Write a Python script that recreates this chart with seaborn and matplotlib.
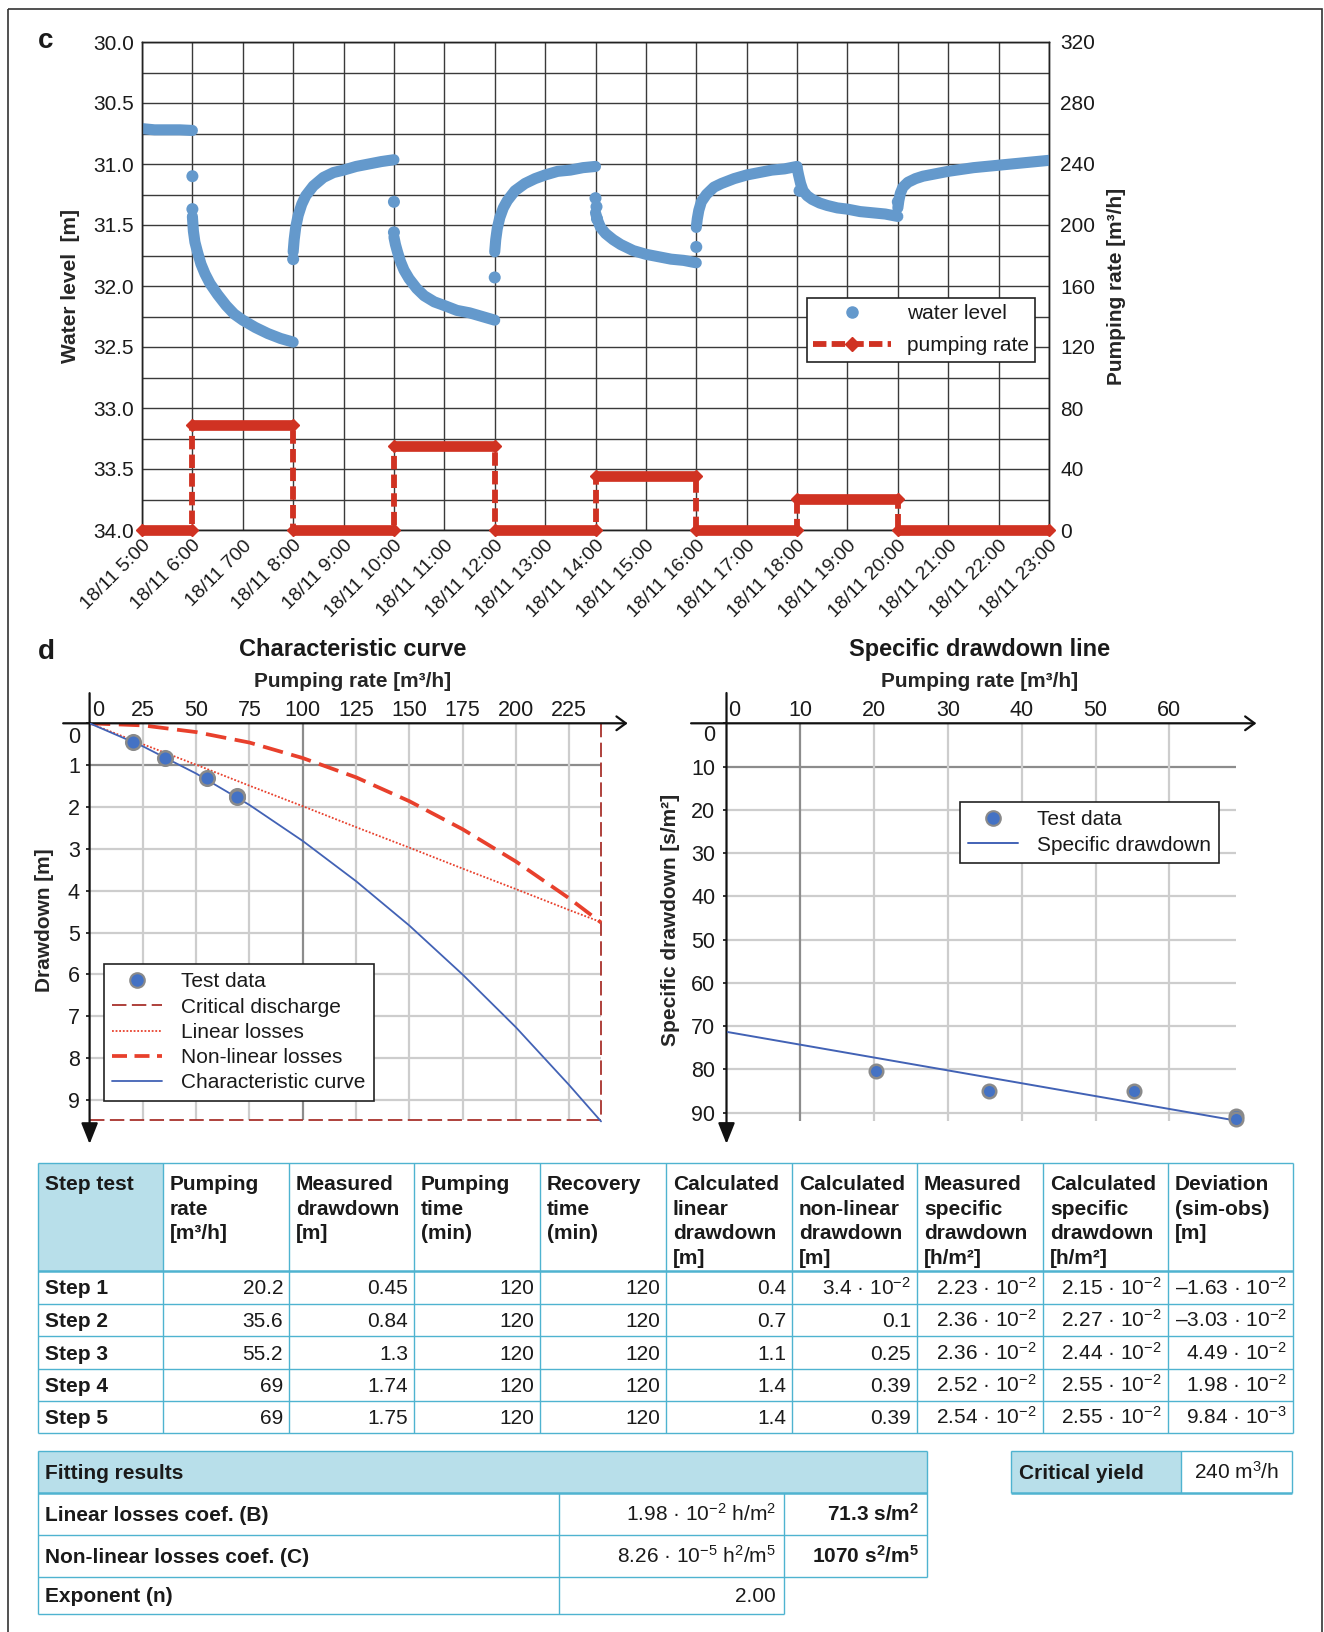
import numpy as np
import matplotlib
matplotlib.use("Agg")
import matplotlib.pyplot as plt
import seaborn as sns
from matplotlib.lines import Line2D
from matplotlib.patches import Rectangle
from matplotlib.transforms import ScaledTranslation

# ======================= DATA =======================
# --- panel c : time series (hours of 18/11) ---
hours = list(range(5, 24))
time_labels = ["18/11 5:00", "18/11 6:00", "18/11 700", "18/11 8:00", "18/11 9:00",
               "18/11 10:00", "18/11 11:00", "18/11 12:00", "18/11 13:00", "18/11 14:00",
               "18/11 15:00", "18/11 16:00", "18/11 17:00", "18/11 18:00", "18/11 19:00",
               "18/11 20:00", "18/11 21:00", "18/11 22:00", "18/11 23:00"]
wl_ticks = [30.0, 30.5, 31.0, 31.5, 32.0, 32.5, 33.0, 33.5, 34.0]
q_ticks = [0, 40, 80, 120, 160, 200, 240, 280, 320]

wl_times = [
    [5.0, 5.25, 5.5, 5.75, 6.0],
    [6.0, 6.02, 6.05, 6.10, 6.17, 6.25, 6.35, 6.5, 6.67, 6.83, 7.0, 7.25, 7.5, 7.75, 8.0],
    [8.0, 8.02, 8.05, 8.1, 8.17, 8.25, 8.4, 8.6, 8.8, 9.0, 9.25, 9.5, 9.75, 10.0],
    [10.0, 10.03, 10.07, 10.13, 10.2, 10.3, 10.45, 10.6, 10.8, 11.0, 11.25, 11.5, 11.75, 12.0],
    [12.0, 12.02, 12.05, 12.1, 12.17, 12.25, 12.4, 12.6, 12.8, 13.0, 13.25, 13.5, 13.75, 14.0],
    [14.0, 14.05, 14.1, 14.2, 14.35, 14.5, 14.75, 15.0, 15.25, 15.5, 15.75, 16.0],
    [16.0, 16.02, 16.05, 16.1, 16.2, 16.35, 16.5, 16.75, 17.0, 17.25, 17.5, 17.75, 18.0],
    [18.0, 18.03, 18.07, 18.12, 18.2, 18.3, 18.45, 18.6, 18.8, 19.0, 19.25, 19.5, 19.75, 20.0],
    [20.0, 20.02, 20.05, 20.1, 20.2, 20.35, 20.5, 20.75, 21.0, 21.5, 22.0, 22.5, 23.0],
]
wl_levels = [
    [30.71, 30.72, 30.72, 30.72, 30.725],
    [31.43, 31.55, 31.64, 31.72, 31.82, 31.90, 31.98, 32.07, 32.16, 32.23, 32.28, 32.34, 32.39, 32.43, 32.46],
    [31.72, 31.62, 31.52, 31.42, 31.33, 31.26, 31.18, 31.11, 31.07, 31.05, 31.02, 31.00, 30.98, 30.965],
    [31.60, 31.66, 31.72, 31.80, 31.87, 31.94, 32.02, 32.08, 32.13, 32.16, 32.20, 32.22, 32.25, 32.28],
    [31.72, 31.62, 31.53, 31.44, 31.36, 31.30, 31.22, 31.16, 31.12, 31.09, 31.06, 31.05, 31.03, 31.02],
    [31.40, 31.47, 31.52, 31.57, 31.62, 31.66, 31.71, 31.74, 31.76, 31.78, 31.79, 31.81],
    [31.52, 31.45, 31.38, 31.31, 31.25, 31.19, 31.16, 31.12, 31.09, 31.07, 31.05, 31.04, 31.02],
    [31.03, 31.09, 31.16, 31.22, 31.26, 31.29, 31.32, 31.34, 31.36, 31.37, 31.39, 31.40, 31.41, 31.43],
    [31.36, 31.30, 31.24, 31.19, 31.15, 31.12, 31.10, 31.08, 31.06, 31.03, 31.01, 30.99, 30.97],
]
wl_jump_t = [6.0, 6.0, 8.0, 10.0, 10.0, 12.0, 14.0, 14.02, 14.03, 16.0, 18.05, 20.0]
wl_jump_h = [31.10, 31.37, 31.78, 31.31, 31.56, 31.93, 31.28, 31.35, 31.45, 31.68, 31.22, 31.31]

pump_t = [5, 6, 6, 8, 8, 10, 10, 12, 12, 14, 14, 16, 16, 18, 18, 20, 20, 23]
pump_q = [0, 0, 69, 69, 0, 0, 55.2, 55.2, 0, 0, 35.6, 35.6, 0, 0, 20.2, 20.2, 0, 0]

# --- step test table ---
step_names = ["Step 1", "Step 2", "Step 3", "Step 4", "Step 5"]
step_q = [20.2, 35.6, 55.2, 69, 69]
step_s = [0.45, 0.84, 1.3, 1.74, 1.75]
pump_time = [120, 120, 120, 120, 120]
recov_time = [120, 120, 120, 120, 120]
calc_lin = ["0.4", "0.7", "1.1", "1.4", "1.4"]
calc_nonlin_m = [3.4, None, None, None, None]
calc_nonlin_plain = [None, "0.1", "0.25", "0.39", "0.39"]
meas_spec_m = [2.23, 2.36, 2.36, 2.52, 2.54]
calc_spec_m = [2.15, 2.27, 2.44, 2.55, 2.55]
dev_m = [-1.63, -3.03, 4.49, 1.98, 9.84]
dev_e = [-2, -2, -2, -2, -3]

# --- characteristic curve ---
char_q = [0, 25, 50, 75, 100, 125, 150, 175, 200, 225, 240]
char_linear = [0, 0.50, 0.99, 1.49, 1.98, 2.48, 2.97, 3.47, 3.96, 4.46, 4.75]
char_nonlinear = [0, 0.05, 0.21, 0.46, 0.83, 1.29, 1.86, 2.53, 3.30, 4.18, 4.76]
char_total = [0, 0.55, 1.20, 1.95, 2.81, 3.77, 4.83, 6.00, 7.26, 8.64, 9.51]
crit_q = 240
crit_s = 9.48
char_xticks = [0, 25, 50, 75, 100, 125, 150, 175, 200, 225]
char_yticks = [0, 1, 2, 3, 4, 5, 6, 7, 8, 9]

# --- specific drawdown line ---
spec_meas = [80.3, 85.0, 85.0, 90.7, 91.4]
spec_line_q = [0, 69]
spec_line_s = [71.3, 91.8]
spec_xticks = [0, 10, 20, 30, 40, 50, 60]
spec_yticks = [0, 10, 20, 30, 40, 50, 60, 70, 80, 90]

# --- fitting results ---
fit_labels = ["Linear losses coef. (B)", "Non-linear losses coef. (C)", "Exponent (n)"]
fit_mant = [1.98, 8.26, None]
fit_exp = [-2, -5, None]
fit_units = [" h/m$^{2}$", " h$^{2}$/m$^{5}$", ""]
fit_si = ["71.3 s/m$^{\\mathbf{2}}$", "1070 s$^{\\mathbf{2}}$/m$^{\\mathbf{5}}$", None]
crit_yield = "240 m$^{3}$/h"

# ======================= STYLE =======================
sns.set_theme(style="white")
plt.rcParams["font.family"] = ["Liberation Sans", "DejaVu Sans"]
plt.rcParams["mathtext.fontset"] = "custom"
plt.rcParams["mathtext.rm"] = "Liberation Sans"
plt.rcParams["mathtext.it"] = "Liberation Sans:italic"
plt.rcParams["mathtext.bf"] = "Liberation Sans:bold"
plt.rcParams["text.color"] = "#1a1a1a"
plt.rcParams["xtick.color"] = "#1a1a1a"
plt.rcParams["ytick.color"] = "#1a1a1a"

BLUE_WL = "#6499cc"
RED = "#d03222"
RED_NL = "#e8402c"
RED_CRIT = "#a8322c"
BLUE_PT = "#4472c4"
BLUE_LN = "#4262b5"
GRID_L = "#cdcdcd"
GRID_D = "#8c8c8c"
TBL_LINE = "#4fb3d0"
TBL_FILL = "#b8dfea"

W, H, DPI = 1324, 1632, 100
fig = plt.figure(figsize=(W / DPI, H / DPI), dpi=DPI)
fig.patch.set_facecolor("white")


def rect(left, top, right, bottom):
    return [left / W, 1 - bottom / H, (right - left) / W, (bottom - top) / H]


# overlay axes in pixel coordinates for tables / frame
tax = fig.add_axes([0, 0, 1, 1])
tax.set_xlim(0, W)
tax.set_ylim(H, 0)
tax.axis("off")
tax.patch.set_visible(False)
tax.set_zorder(-10)
tax.add_patch(Rectangle((8, 9), 1314, 1660, fill=False, ec="#333333", lw=1.2, clip_on=False))
tax.text(46, 41, "c", fontsize=20, fontweight="bold", ha="center", va="center")
tax.text(46, 652, "d", fontsize=20, fontweight="bold", ha="center", va="center")

# ======================= PANEL c =======================
ax = fig.add_axes(rect(142, 42, 1049, 530))
for t, h in zip(wl_times, wl_levels):
    ax.plot(t, h, color=BLUE_WL, lw=8.0, solid_capstyle="round", solid_joinstyle="round", zorder=3)
sns.scatterplot(x=wl_jump_t, y=wl_jump_h, ax=ax, s=75, color=BLUE_WL, edgecolor="none", zorder=3)
ax.set_xlim(hours[0], hours[-1])
ax.set_ylim(wl_ticks[-1], wl_ticks[0])
ax.set_xticks(hours)
ax.set_xticklabels(time_labels, rotation=45, ha="right", va="top", rotation_mode="anchor", fontsize=14)
ax.set_yticks(wl_ticks)
ax.set_yticklabels([f"{v:.1f}" for v in wl_ticks])
ax.set_yticks(np.arange(30, 34.01, 0.25), minor=True)
ax.grid(True, which="both", color="#3a3a3a", lw=1.0)
ax.set_axisbelow(True)
ax.tick_params(axis="both", which="both", length=0)
ax.tick_params(axis="y", labelsize=15, pad=6)
ax.tick_params(axis="x", pad=5)
ax.set_ylabel("Water level  [m]", fontsize=15, fontweight="bold", va="center")
ax.yaxis.set_label_coords(-0.0783, 0.5)
for sp in ax.spines.values():
    sp.set_color("#222222")
    sp.set_linewidth(1.0)

ax2 = ax.twinx()
ax2.plot(pump_t, pump_q, color=RED, lw=4.2, ls=(0, (2.3, 0.9)), clip_on=False, zorder=4)
for i in range(len(pump_t) - 1):
    if pump_q[i] == pump_q[i + 1] and pump_t[i + 1] > pump_t[i]:
        ax2.plot([pump_t[i], pump_t[i + 1]], [pump_q[i], pump_q[i + 1]], color=RED, lw=7.7,
                 solid_capstyle="butt", marker="D", ms=6.5, clip_on=False, zorder=5)
ax2.set_ylim(q_ticks[0], q_ticks[-1])
ax2.set_yticks(q_ticks)
ax2.grid(False)
ax2.tick_params(length=0, labelsize=15, pad=8)
ax2.set_ylabel("Pumping rate [m³/h]", fontsize=15, fontweight="bold", va="center")
ax2.yaxis.set_label_coords(1.0739, 0.5)
for sp in ax2.spines.values():
    sp.set_color("#222222")
    sp.set_linewidth(1.0)

hwl = Line2D([], [], ls="none", marker="o", ms=8, color=BLUE_WL)
hpr = Line2D([], [], color=RED, lw=4.2, ls=(0, (2.3, 0.9)), marker="D", ms=7)
leg = ax2.legend([hwl, hpr], ["water level", "pumping rate"], loc="upper left",
                 bbox_to_anchor=(0.733, 0.475), borderaxespad=0, fontsize=15, frameon=True,
                 fancybox=False, framealpha=1, edgecolor="#222222", handlelength=3.75,
                 handletextpad=0.77, labelspacing=0.62, borderpad=0.3)
leg.get_frame().set_linewidth(1.2)


# ======================= PANEL d helpers =======================
def setup_down_axes(a, xticks, yticks, xlim, ylim, xshift, yshift, ypad):
    a.set_xlim(*xlim)
    a.set_ylim(ylim[1], ylim[0])
    for sp in a.spines.values():
        sp.set_visible(False)
    a.grid(False)
    a.xaxis.tick_top()
    a.set_xticks(xticks)
    a.set_xticklabels([str(v) for v in xticks])
    a.set_yticks(yticks)
    a.set_yticklabels([str(v) for v in yticks])
    a.tick_params(axis="x", length=0, pad=2, labelsize=15.5)
    a.tick_params(axis="y", left=True, length=3, width=1.2, direction="out", color="#111111",
                  pad=ypad, labelsize=15.5)
    lx = a.xaxis.get_major_ticks()[0].label2
    lx.set_transform(lx.get_transform() + ScaledTranslation(xshift / DPI, 0, fig.dpi_scale_trans))
    ly = a.yaxis.get_major_ticks()[0].label1
    ly.set_transform(ly.get_transform() + ScaledTranslation(0, -yshift / DPI, fig.dpi_scale_trans))


def draw_axes_arrows(a, x0, x1, y0, y1):
    a.annotate("", xy=(x1, 0), xytext=(x0, 0), annotation_clip=False,
               arrowprops=dict(arrowstyle="->, head_length=0.45, head_width=0.33", lw=1.6,
                               color="#111111", mutation_scale=15, shrinkA=0, shrinkB=0))
    a.annotate("", xy=(0, y1), xytext=(0, y0), annotation_clip=False,
               arrowprops=dict(arrowstyle="-|>, head_length=0.85, head_width=0.34", lw=1.6,
                               color="#111111", fc="#111111", mutation_scale=15, shrinkA=0, shrinkB=0))


# ======================= Characteristic curve =======================
axc = fig.add_axes(rect(89.6, 723.3, 627.7, 1144.0))
setup_down_axes(axc, char_xticks, char_yticks, (0, 252.5), (0, 10.05), 9, 12, 4.0)
for v in char_yticks[1:]:
    axc.hlines(v, 0, crit_q, colors=GRID_D if v == 1 else GRID_L, lw=1.6, zorder=0.5)
for v in char_xticks[1:]:
    axc.vlines(v, 0, crit_s, colors=GRID_D if v == 100 else GRID_L, lw=1.6, zorder=0.5)
axc.plot([0, crit_q, crit_q], [crit_s, crit_s, 0], color=RED_CRIT, lw=1.3, ls=(0, (8, 3)), zorder=2)
axc.plot(char_q, char_linear, color=RED_NL, lw=1.3, ls=(0, (1, 1)), zorder=3)
axc.plot(char_q, char_nonlinear, color=RED_NL, lw=2.7, ls=(0, (5.5, 2.3)), zorder=3)
sns.lineplot(x=char_q, y=char_total, ax=axc, color=BLUE_LN, lw=1.3, zorder=4)
sns.scatterplot(x=step_q, y=step_s, ax=axc, s=110, color=BLUE_PT, edgecolor="#8a8a8a",
                linewidth=1.8, zorder=6)
axc.set_xlim(0, 252.5)
axc.set_ylim(10.05, 0)
draw_axes_arrows(axc, -12.4, 252.5, -0.72, 10.05)
axc.set_title("Characteristic curve", fontsize=17, fontweight="bold", x=0.4895, y=1.176, va="center", pad=0)
axc.set_xlabel("Pumping rate [m³/h]", fontsize=15, fontweight="bold", va="center")
axc.xaxis.set_label_position("top")
axc.xaxis.set_label_coords(0.4895, 1.086)
axc.set_ylabel("Drawdown [m]", fontsize=15, fontweight="bold", va="center")
axc.yaxis.set_label_coords(-0.0847, 0.532)

hc = [Line2D([], [], ls="none", marker="o", ms=10.5, mfc=BLUE_PT, mec="#8a8a8a", mew=1.5),
      Line2D([], [], color=RED_CRIT, lw=1.3, ls=(0, (8, 3))),
      Line2D([], [], color=RED_NL, lw=1.3, ls=(0, (1, 1))),
      Line2D([], [], color=RED_NL, lw=2.7, ls=(0, (4, 2))),
      Line2D([], [], color=BLUE_LN, lw=1.3)]
legc = axc.legend(hc, ["Test data", "Critical discharge", "Linear losses", "Non-linear losses",
                       "Characteristic curve"], loc="upper left", bbox_to_anchor=(0.0268, 0.4279),
                  borderaxespad=0, fontsize=15, frameon=True, fancybox=False, framealpha=1,
                  edgecolor="#222222", handlelength=2.4, handletextpad=0.9, labelspacing=0.3,
                  borderpad=0.4)
legc.get_frame().set_linewidth(1.2)

# ======================= Specific drawdown line =======================
axs = fig.add_axes(rect(726.5, 723.3, 1256.4, 1143.9))
setup_down_axes(axs, spec_xticks, spec_yticks, (0, 71.8), (0, 97.2), 8, 10, 5.0)
for v in spec_yticks[1:]:
    axs.hlines(v, 0, spec_line_q[-1], colors=GRID_D if v == 10 else GRID_L, lw=1.6, zorder=0.5)
for v in spec_xticks[1:]:
    axs.vlines(v, 0, spec_line_s[-1], colors=GRID_D if v == 10 else GRID_L, lw=1.6, zorder=0.5)
sns.lineplot(x=spec_line_q, y=spec_line_s, ax=axs, color=BLUE_LN, lw=1.4, zorder=4)
sns.scatterplot(x=step_q, y=spec_meas, ax=axs, s=95, color=BLUE_PT, edgecolor="#8a8a8a",
                linewidth=1.8, zorder=6)
axs.set_xlim(0, 71.8)
axs.set_ylim(97.2, 0)
draw_axes_arrows(axs, -4.8, 71.8, -7, 97.2)
axs.set_title("Specific drawdown line", fontsize=17, fontweight="bold", x=0.4784, y=1.176, va="center", pad=0)
axs.set_xlabel("Pumping rate [m³/h]", fontsize=15, fontweight="bold", va="center")
axs.xaxis.set_label_position("top")
axs.xaxis.set_label_coords(0.4784, 1.086)
axs.set_ylabel("Specific drawdown [s/m²]", fontsize=15, fontweight="bold", va="center")
axs.yaxis.set_label_coords(-0.1055, 0.532)
hs = [Line2D([], [], ls="none", marker="o", ms=10.5, mfc=BLUE_PT, mec="#8a8a8a", mew=1.5),
      Line2D([], [], color=BLUE_LN, lw=1.4)]
legs = axs.legend(hs, ["Test data", "Specific drawdown"], loc="upper left",
                  bbox_to_anchor=(0.4407, 0.8129), borderaxespad=0, fontsize=15, frameon=True,
                  fancybox=False, framealpha=1, edgecolor="#222222", handlelength=2.4,
                  handletextpad=0.9, labelspacing=0.3, borderpad=0.4)
legs.get_frame().set_linewidth(1.2)


# ======================= TABLES =======================
def sci(m, e):
    sign = "–" if m < 0 else ""
    return f"{sign}{abs(m):g} · 10$^{{{e}}}$"


def hl(y, x0, x1, lw=1.0):
    tax.plot([x0, x1], [y, y], color=TBL_LINE, lw=lw, solid_capstyle="butt")


def vl(x, y0, y1, lw=1.0):
    tax.plot([x, x], [y0, y1], color=TBL_LINE, lw=lw, solid_capstyle="butt")


TFS = 15
col_edges = [38, 163, 289, 414, 540, 666, 792, 917, 1043, 1168, 1293]
row_edges = [1163, 1271, 1304, 1336, 1369, 1401, 1433]
headers = ["Step test", "Pumping\nrate\n[m³/h]", "Measured\ndrawdown\n[m]", "Pumping\ntime\n(min)",
           "Recovery\ntime\n(min)", "Calculated\nlinear\ndrawdown\n[m]",
           "Calculated\nnon-linear\ndrawdown\n[m]", "Measured\nspecific\ndrawdown\n[h/m²]",
           "Calculated\nspecific\ndrawdown\n[h/m²]", "Deviation\n(sim-obs)\n[m]"]

tax.add_patch(Rectangle((col_edges[0], row_edges[0]), col_edges[1] - col_edges[0],
                        row_edges[1] - row_edges[0], fc=TBL_FILL, ec="none"))
for i, htxt in enumerate(headers):
    tax.text(col_edges[i] + 7, row_edges[0] + 12, htxt, fontsize=TFS, fontweight="bold",
             ha="left", va="top", linespacing=1.38)

nonlin_str = [sci(m, -2) if m is not None else p for m, p in zip(calc_nonlin_m, calc_nonlin_plain)]
columns = [
    [f"{q:g}" for q in step_q],
    [f"{s:g}" for s in step_s],
    [str(v) for v in pump_time],
    [str(v) for v in recov_time],
    calc_lin,
    nonlin_str,
    [sci(m, -2) for m in meas_spec_m],
    [sci(m, -2) for m in calc_spec_m],
    [sci(m, e) for m, e in zip(dev_m, dev_e)],
]
for r, name in enumerate(step_names):
    yc = (row_edges[r + 1] + row_edges[r + 2]) / 2
    tax.text(col_edges[0] + 7, yc + 7, name, fontsize=TFS, fontweight="bold", ha="left", va="baseline")
    for c, col in enumerate(columns):
        tax.text(col_edges[c + 2] - 6, yc + 7, col[r], fontsize=TFS, ha="right", va="baseline")

for y in row_edges:
    hl(y, col_edges[0], col_edges[-1], lw=1.8 if y == row_edges[1] else 1.0)
for x in col_edges:
    vl(x, row_edges[0], row_edges[-1])

# fitting results table
fx = [38, 559, 784, 927]
fy = [1451, 1493, 1535, 1577, 1614]
tax.add_patch(Rectangle((fx[0], fy[0]), fx[3] - fx[0], fy[1] - fy[0], fc=TBL_FILL, ec="none"))
tax.text(fx[0] + 7, (fy[0] + fy[1]) / 2 + 7, "Fitting results", fontsize=TFS, fontweight="bold",
         ha="left", va="baseline")
for r, lab in enumerate(fit_labels):
    yc = (fy[r + 1] + fy[r + 2]) / 2
    tax.text(fx[0] + 7, yc + 7, lab, fontsize=TFS, fontweight="bold", ha="left", va="baseline")
    val = sci(fit_mant[r], fit_exp[r]) + fit_units[r] if fit_mant[r] is not None else "2.00"
    tax.text(fx[2] - 8, yc + 7, val, fontsize=TFS, ha="right", va="baseline")
    if fit_si[r] is not None:
        tax.text(fx[3] - 8, yc + 7, fit_si[r], fontsize=TFS, fontweight="bold", ha="right", va="baseline")
hl(fy[0], fx[0], fx[3])
hl(fy[1], fx[0], fx[3], lw=1.8)
hl(fy[2], fx[0], fx[3])
hl(fy[3], fx[0], fx[3])
hl(fy[4], fx[0], fx[2])
vl(fx[0], fy[0], fy[4])
vl(fx[1], fy[1], fy[4])
vl(fx[2], fy[1], fy[4])
vl(fx[3], fy[0], fy[3])

# critical yield
cx = [1011, 1181, 1292]
tax.add_patch(Rectangle((cx[0], fy[0]), cx[1] - cx[0], fy[1] - fy[0], fc=TBL_FILL, ec="none"))
tax.text(cx[0] + 8, (fy[0] + fy[1]) / 2 + 7, "Critical yield", fontsize=TFS, fontweight="bold",
         ha="left", va="baseline")
tax.text((cx[1] + cx[2]) / 2, (fy[0] + fy[1]) / 2 + 7, crit_yield, fontsize=TFS, ha="center", va="baseline")
hl(fy[0], cx[0], cx[2])
hl(fy[1], cx[0], cx[2], lw=1.8)
for x in cx:
    vl(x, fy[0], fy[1])

fig.savefig("out.png", dpi=DPI)
